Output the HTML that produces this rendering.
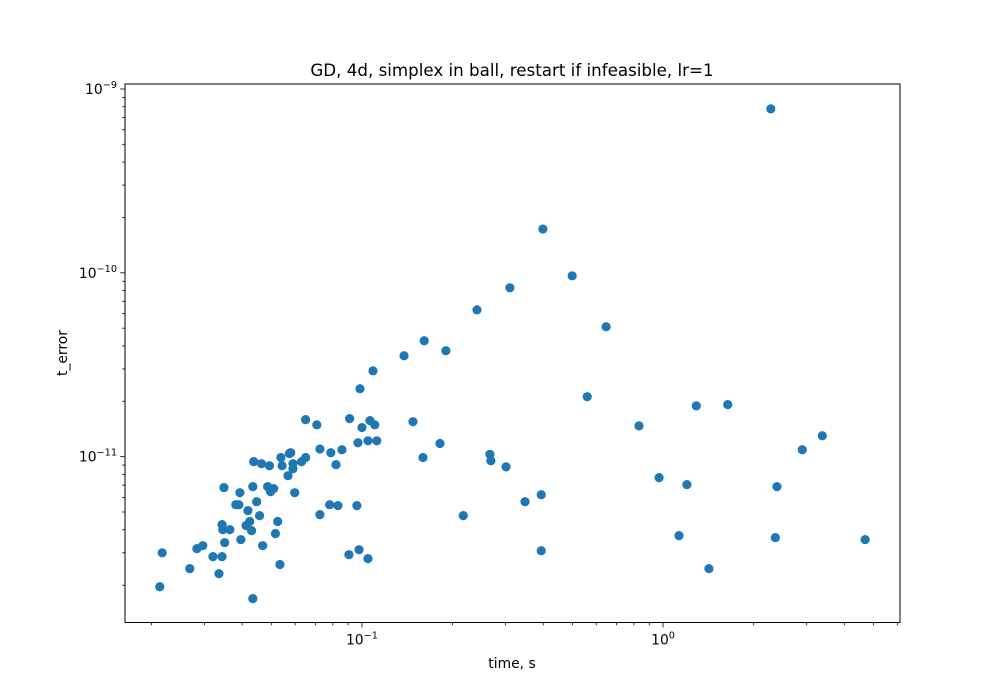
<!DOCTYPE html>
<html><head><meta charset="utf-8"><style>
html,body{margin:0;padding:0;background:#fff;}
svg{display:block;font-family:"DejaVu Sans","Liberation Sans",sans-serif;}
</style></head><body>
<svg id="chart" width="1000" height="700" viewBox="0 0 1000 700" xmlns="http://www.w3.org/2000/svg">
<rect width="1000" height="700" fill="#fff"/>
<text x="512" y="76" text-anchor="middle" font-size="16.7" fill="#000">GD, 4d, simplex in ball, restart if infeasible, lr=1</text>
<text x="512" y="668" text-anchor="middle" font-size="13.9" fill="#000">time, s</text>
<text transform="translate(67,353) rotate(-90)" text-anchor="middle" font-size="13.9" fill="#000">t_error</text>
<g id="ticks"></g>
<g id="points"></g>
<rect x="125" y="84" width="775" height="538.5" fill="none" stroke="#000" stroke-width="1"/>
</svg>
<script>
const xValues=[0.0213,0.0217,0.0268,0.0283,0.0296,0.032,0.0335,0.0343,0.0343,0.0348,0.035,0.0345,0.0364,0.0381,0.039,0.0393,0.0396,0.0412,0.0418,0.0424,0.043,0.0434,0.0434,0.0437,0.0447,0.0457,0.0464,0.0468,0.0486,0.0493,0.0497,0.0509,0.0516,0.0525,0.0534,0.0538,0.0543,0.0568,0.0574,0.058,0.059,0.059,0.0598,0.063,0.065,0.065,0.0708,0.0725,0.0725,0.0781,0.0788,0.082,0.0832,0.0858,0.0905,0.091,0.0962,0.097,0.0978,0.0985,0.1,0.1047,0.1047,0.1063,0.1088,0.1103,0.112,0.138,0.1477,0.1595,0.161,0.1816,0.19,0.217,0.241,0.266,0.268,0.301,0.31,0.348,0.394,0.394,0.399,0.499,0.56,0.647,0.832,0.97,1.13,1.2,1.29,1.42,1.64,2.28,2.36,2.39,2.9,3.38,4.69];
const yValues=[1.96e-12,3.0e-12,2.46e-12,3.16e-12,3.28e-12,2.86e-12,2.31e-12,4.27e-12,2.86e-12,6.79e-12,3.41e-12,4.01e-12,4.01e-12,5.48e-12,5.48e-12,6.37e-12,3.54e-12,4.22e-12,5.09e-12,4.44e-12,3.96e-12,1.69e-12,6.87e-12,9.4e-12,5.69e-12,4.78e-12,9.16e-12,3.28e-12,6.87e-12,8.93e-12,6.45e-12,6.7e-12,3.82e-12,4.44e-12,2.59e-12,9.9e-12,8.93e-12,7.88e-12,1.04e-11,1.05e-11,8.6e-12,9.16e-12,6.37e-12,9.4e-12,9.9e-12,1.59e-11,1.49e-11,1.10e-11,4.84e-12,5.48e-12,1.05e-11,9.05e-12,5.42e-12,1.09e-11,2.93e-12,1.61e-11,5.42e-12,1.19e-11,3.12e-12,2.34e-11,1.44e-11,2.79e-12,1.22e-11,1.57e-11,2.93e-11,1.49e-11,1.22e-11,3.54e-11,1.55e-11,9.9e-12,4.27e-11,1.18e-11,3.77e-11,4.78e-12,6.29e-11,1.03e-11,9.5e-12,8.8e-12,8.29e-11,5.69e-12,6.21e-12,3.08e-12,1.73e-10,9.63e-11,2.12e-11,5.09e-11,1.47e-11,7.69e-12,3.72e-12,7.05e-12,1.89e-11,2.46e-12,1.92e-11,7.79e-10,3.63e-12,6.87e-12,1.09e-11,1.30e-11,3.54e-12];
const xMajorTicks=[0.1,1];
const xMajorLabels=["−1","0"];
const yMajorTicks=[1e-11,1e-10,1e-9];
const yMajorLabels=["−11","−10","−9"];
const NS="http://www.w3.org/2000/svg";
const X0=125,X1=900,Y0=622.5,Y1=84;
const xLogMin=-1.787,xLogMax=0.787,yLogMin=-11.902,yLogMax=-8.973;
function xs(v){return X0+(Math.log10(v)-xLogMin)/(xLogMax-xLogMin)*(X1-X0);}
function ys(v){return Y0-(Math.log10(v)-yLogMin)/(yLogMax-yLogMin)*(Y0-Y1);}
function mk(t,a){const e=document.createElementNS(NS,t);for(const k in a)e.setAttribute(k,a[k]);return e;}
const tg=document.getElementById('ticks');
for(let d=-2;d<=0;d++)for(let m=2;m<=9;m++){const v=m*Math.pow(10,d);const px=xs(v);if(px<X0||px>X1)continue;
 const l=mk('line',{x1:px,x2:px,y1:Y0,y2:Y0+2.8,stroke:'#000','stroke-width':0.8});
 
 tg.appendChild(l);}
for(let d=-12;d<=-9;d++)for(let m=2;m<=9;m++){const v=m*Math.pow(10,d);const py=ys(v);if(py<Y1||py>Y0)continue;
 const l=mk('line',{x1:X0-2.8,x2:X0,y1:py,y2:py,stroke:'#000','stroke-width':0.8});
 
 tg.appendChild(l);}
xMajorTicks.forEach((v,i)=>{const px=xs(v);
 const l=mk('line',{x1:px,x2:px,y1:Y0,y2:Y0+4.9,stroke:'#000','stroke-width':0.8});
 
 tg.appendChild(l);
 const t=mk('text',{x:px,y:Y0+22,'text-anchor':'middle','font-size':13.9});
 
 
 t.innerHTML='10<tspan dy="-6" font-size="9.7">'+xMajorLabels[i]+'</tspan>';tg.appendChild(t);});
yMajorTicks.forEach((v,i)=>{const py=ys(v);
 const l=mk('line',{x1:X0-4.9,x2:X0,y1:py,y2:py,stroke:'#000','stroke-width':0.8});
 
 tg.appendChild(l);
 const t=mk('text',{x:X0-8,y:py+5,'text-anchor':'end','font-size':13.9});
 
 
 t.innerHTML='10<tspan dy="-6" font-size="9.7">'+yMajorLabels[i]+'</tspan>';tg.appendChild(t);});
const pg=document.getElementById('points');
xValues.forEach((v,i)=>{const c=mk('circle',{cx:xs(v),cy:ys(yValues[i]),r:4.6,fill:'#1f77b4'});
 
 pg.appendChild(c);});
</script>
</body></html>
